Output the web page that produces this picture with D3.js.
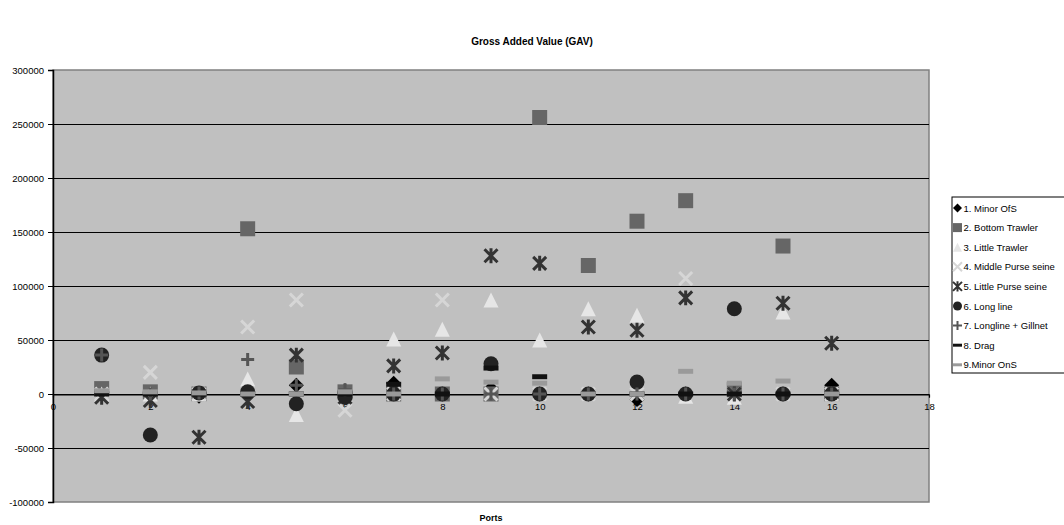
<!DOCTYPE html>
<html>
<head>
<meta charset="utf-8">
<script src="https://d3js.org/d3.v7.min.js"></script>
<style>
body { margin: 0; background: #fff; }
svg { font-family: "Liberation Sans", Arial, sans-serif; }
</style>
</head>
<body>
<div id="graph"></div>
<script>
var ports = d3.range(1, 17);
var seriesNames = ["1. Minor  OfS", "2. Bottom Trawler", "3. Little Trawler", "4. Middle Purse seine",
  "5. Little Purse seine", "6. Long line", "7. Longline + Gillnet", "8. Drag", "9.Minor OnS"];

var minorOfS       = [0, 0, -2000, 0, 8000, 3000, 10000, 0, 5000, 0, 0, -5000, 0, 0, 0, 8000];
var bottomTrawler  = [5000, 2000, 0, 153000, 25000, 2000, 0, 0, 0, 256000, 119000, 160000, 179000, 4000, 137000, 0];
var littleTrawler  = [0, 0, 0, 14000, -19000, 0, 51000, 60000, 87000, 50000, 79000, 73000, -2000, -3000, 76000, 0];
var middlePurse    = [0, 20000, 0, 62000, 87000, -15000, 0, 87000, 0, 0, 0, 0, 107000, 0, 0, 0];
var littlePurse    = [-3000, -6000, -40000, -7000, 36000, -3000, 26000, 38000, 128000, 121000, 62000, 59000, 89000, 0, 84000, 47000];
var longLine       = [36000, -38000, 1000, 2000, -9000, -3000, 0, 0, 28000, 0, 0, 11000, 0, 79000, 0, 0];
var longlineGill   = [36000, 0, 1000, 32000, 8000, 4000, 0, 0, 0, 0, 0, 0, 0, 0, 0, 0];
var drag           = [0, 0, 0, 0, 0, 0, 9000, 0, 24000, 16000, 0, 0, 0, 0, 0, 0];
var minorOnS       = [3000, 2000, 1000, 0, 0, 2000, 0, 14000, 11000, 10000, 0, 0, 21000, 10000, 12000, 0];

var yTicks = [-100000, -50000, 0, 50000, 100000, 150000, 200000, 250000, 300000];
var xTicks = [0, 2, 4, 6, 8, 10, 12, 14, 16, 18];

var allValues = [minorOfS, bottomTrawler, littleTrawler, middlePurse, littlePurse, longLine, longlineGill, drag, minorOnS];

// marker look per series
var markers = [
  {type: "diamond", fill: "#000"},
  {type: "square", fill: "#666"},
  {type: "triangle", fill: "#e6e6e6"},
  {type: "x", stroke: "#d6d6d6"},
  {type: "star", stroke: "#333"},
  {type: "circle", fill: "#222"},
  {type: "plus", stroke: "#555"},
  {type: "dash", fill: "#111"},
  {type: "dash", fill: "#9a9a9a"}
];

var svgWidth = 1064, svgHeight = 525;
var svg = d3.select('#graph').append('svg').attr('width', svgWidth).attr('height', svgHeight);

var x = d3.scaleLinear().domain([0, 18]).range([53, 929]);
var y = d3.scaleLinear().domain([-100000, 300000]).range([502, 70]);

// plot area
svg.append('rect')
  .attr('x', x(0)).attr('y', y(300000))
  .attr('width', x(18) - x(0)).attr('height', y(-100000) - y(300000))
  .attr('fill', '#c0c0c0').attr('stroke', '#808080').attr('stroke-width', 1.5);

// gridlines
svg.append('g').selectAll('line').data(yTicks.filter(function(d) { return d > -100000 && d < 300000; }))
  .enter().append('line')
  .attr('x1', x(0)).attr('x2', x(18))
  .attr('y1', function(d) { return Math.round(y(d)) + 0.5; }).attr('y2', function(d) { return Math.round(y(d)) + 0.5; })
  .attr('stroke', '#000').attr('stroke-width', 1).attr('shape-rendering', 'crispEdges');

// y axis (plain hyphen for negatives, like the original)
var yAxis = svg.append('g').attr('transform', 'translate(' + x(0) + ',0)')
  .call(d3.axisLeft(y).tickValues(yTicks).tickSize(5).tickPadding(4).tickFormat(function(d) { return String(d); }));
yAxis.select('.domain').attr('stroke', '#000').attr('stroke-width', 1.5);
yAxis.selectAll('text').style('font-size', '9.5px').attr('fill', '#000');

// x axis at zero
var xAxis = svg.append('g').attr('transform', 'translate(0,' + (Math.round(y(0)) + 0.5) + ')')
  .call(d3.axisBottom(x).tickValues(xTicks).tickSize(3).tickPadding(6).tickFormat(function(d) { return String(d); }));
xAxis.select('.domain').attr('stroke', '#000').attr('stroke-width', 1.2);
xAxis.selectAll('text').style('font-size', '9.5px').attr('fill', '#000');

function markerPath(type, r) {
  if (type === "x") return "M" + (-r) + "," + (-r) + "L" + r + "," + r + "M" + (-r) + "," + r + "L" + r + "," + (-r);
  if (type === "plus") return "M" + (-r) + ",0L" + r + ",0M0," + (-r) + "L0," + r;
  if (type === "star") return "M" + (-r) + "," + (-r) + "L" + r + "," + r + "M" + (-r) + "," + r + "L" + r + "," + (-r) + "M0," + (-r * 1.15) + "L0," + (r * 1.15);
  if (type === "dash") return "M" + (-r) + "," + (-r * 0.33) + "H" + r + "V" + (r * 0.33) + "H" + (-r) + "Z";
  if (type === "square") return "M" + (-r) + "," + (-r) + "H" + r + "V" + r + "H" + (-r) + "Z";
  if (type === "diamond") return "M0," + (-r) + "L" + r + ",0L0," + r + "L" + (-r) + ",0Z";
  if (type === "triangle") return "M0," + (-r) + "L" + r + "," + r + "H" + (-r) + "Z";
  if (type === "circle") return d3.symbol().type(d3.symbolCircle).size(Math.PI * r * r)();
}

function drawMarker(sel, m, r, sw) {
  sel.attr('d', markerPath(m.type, r));
  if (m.stroke) sel.attr('fill', 'none').attr('stroke', m.stroke).attr('stroke-width', sw);
  else sel.attr('fill', m.fill).attr('stroke', 'none');
}

// points
allValues.forEach(function(vals, i) {
  var m = markers[i];
  var r = m.stroke ? 6.5 : 7.5;
  svg.append('g').selectAll('path').data(vals).enter().append('path')
    .attr('transform', function(d, j) { return 'translate(' + x(ports[j]) + ',' + y(d) + ')'; })
    .each(function() { drawMarker(d3.select(this), m, r, 3); });
});

// titles
svg.append('text').attr('x', 532).attr('y', 45).attr('text-anchor', 'middle')
  .style('font-size', '10px').style('font-weight', 'bold').text('Gross Added Value (GAV)');
svg.append('text').attr('x', (x(0) + x(18)) / 2).attr('y', 521).attr('text-anchor', 'middle')
  .style('font-size', '9px').style('font-weight', 'bold').text('Ports');

// legend
var legend = svg.append('g').attr('transform', 'translate(952,197)');
legend.append('rect').attr('x', 0).attr('y', 0).attr('width', 120).attr('height', 176)
  .attr('fill', '#fff').attr('stroke', '#000').attr('stroke-width', 1);
seriesNames.forEach(function(name, i) {
  var row = legend.append('g').attr('transform', 'translate(0,' + (11 + i * 19.6) + ')');
  var m = markers[i];
  row.append('path').attr('transform', 'translate(5.5,0)')
    .each(function() { drawMarker(d3.select(this), m, 4.5, 2); });
  row.append('text').attr('x', 11.5).attr('y', 3.5).style('font-size', '9.5px').text(name);
});
</script>
</body>
</html>
